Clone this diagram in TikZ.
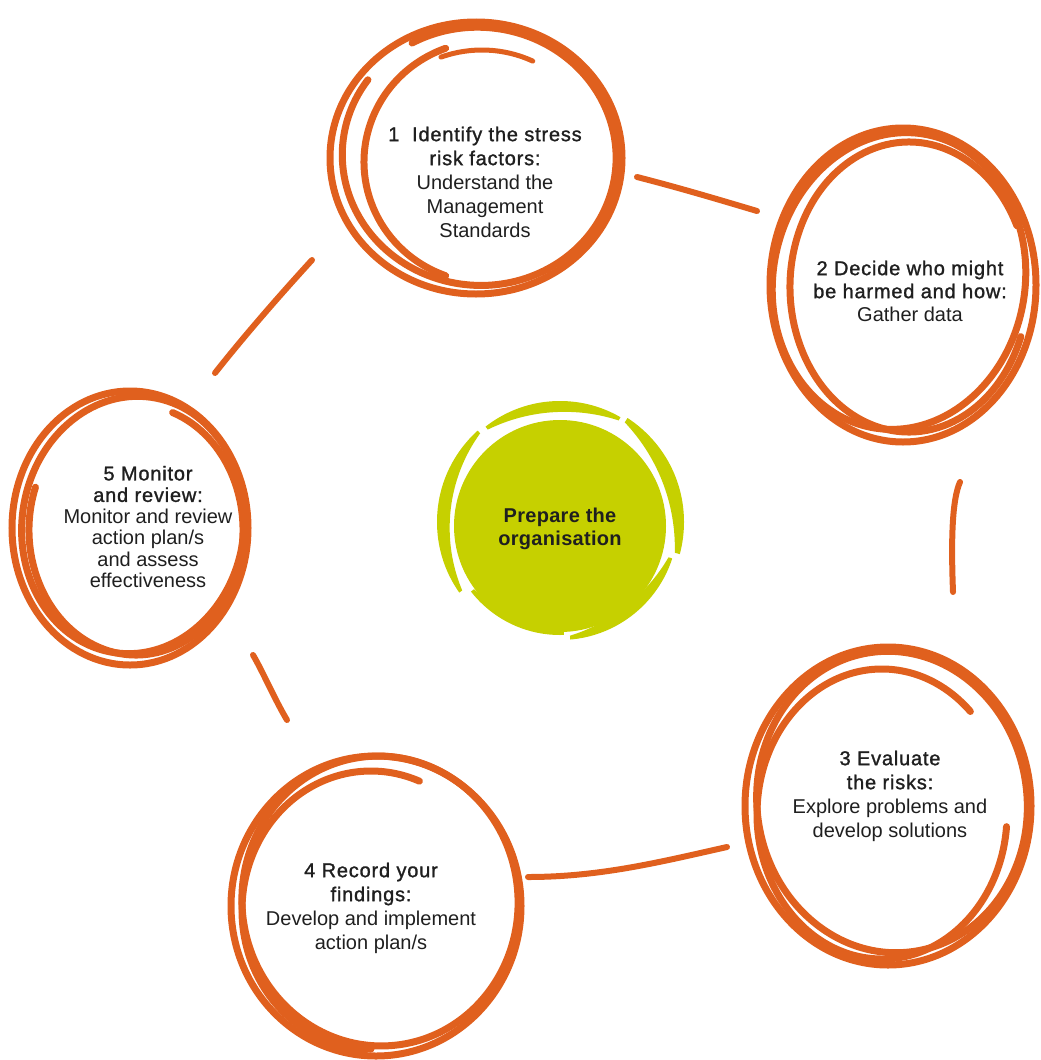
\documentclass[tikz,border=0pt]{standalone}
\usepackage{fontspec}
\setmainfont{Liberation Sans}
\newfontfamily\medfont[FakeBold=1.3,LetterSpace=4]{Liberation Sans}
\newfontfamily\ctrfont[LetterSpace=1.5]{Liberation Sans Bold}
\definecolor{orng}{RGB}{224,96,30}
\definecolor{lime}{RGB}{198,208,0}
\newcommand\blobpiece[4]{%
  \pgfmathsetmacro\hm{(#2-#1)/2}%
  \pgfmathsetmacro\tm{(#1+#2)/2+180}%
  \pgfmathsetmacro\mm{#4/(1-cos(\hm))}%
  \pgfmathsetmacro\rr{#3+\mm*cos(\hm)}%
  \begin{scope}
    \clip (0,0) -- (#1:260) arc[start angle=#1,end angle=#2,radius=260] -- cycle;
    \fill[lime,even odd rule] (0,0) circle[radius=#3] (\tm:\mm) circle[radius=\rr];
  \end{scope}}
\begin{document}
\begin{tikzpicture}[x=1pt,y=-1pt,
  ink/.style={draw=orng,line width=7pt,line cap=round},
  link/.style={draw=orng,line width=6pt,line cap=round},
  lbl/.style={align=center,font=\fontsize{20}{24}\selectfont,inner sep=0pt,text=black!88}]
\useasboundingbox (0,0) rectangle (1041,1060);

% ---------- centre blob ----------
\fill[lime] (560,526) circle[radius=106];
\begin{scope}[shift={(560,522)}]
  \blobpiece{145}{228}{123}{13}
  \blobpiece{232}{300}{121}{11}
  \blobpiece{303}{375}{124}{14}
  \blobpiece{378}{445}{118}{11}
  \blobpiece{88}{142}{113}{9}
\end{scope}
\node[lbl,font=\ctrfont\fontsize{20}{23}\selectfont] (t0) at (560,529) {Prepare the\\organisation};

% ---------- circle 1 ----------
\begin{scope}[shift={(476,158)}]
  \draw[ink] (0,0) ellipse[x radius=146,y radius=136];
  \draw[ink,rotate=-6,shift={(3,-2)}] (235:137 and 129) arc[start angle=235,end angle=570,x radius=137,y radius=129];
  \draw[ink,shift={(12,4)}] (110:124 and 121) arc[start angle=110,end angle=250,x radius=124,y radius=121];
  \draw[ink,line width=5pt,shift={(6,10)}] (250:120 and 118) arc[start angle=250,end angle=295,x radius=120,y radius=118];
\end{scope}
\node[lbl] (t1) at (485,182) {{\medfont 1\ \ Identify the stress}\\{\medfont risk factors:}\\Understand the\\Management\\Standards};

% ---------- circle 2 ----------
\begin{scope}[shift={(903,285)}]
  \draw[ink] (0,0) ellipse[x radius=133,y radius=157];
  \draw[ink,shift={(-4,-4)},rotate=-10] (0,0) ellipse[x radius=126,y radius=149];
  \draw[ink,shift={(6,2)}] (20:119 and 145) arc[start angle=20,end angle=335,x radius=119,y radius=145];
\end{scope}
\node[lbl,font=\fontsize{20}{23}\selectfont] (t2) at (910,291) {{\medfont 2 Decide who might}\\{\medfont be harmed and how:}\\Gather data};

% ---------- circle 3 ----------
\begin{scope}[shift={(888,806)}]
  \draw[ink] (0,0) ellipse[x radius=143,y radius=159];
  \draw[ink,shift={(4,-4)},rotate=8] (0,0) ellipse[x radius=135,y radius=151];
  \draw[ink,shift={(-6,8)}] (5:125 and 145) arc[start angle=5,end angle=315,x radius=125,y radius=145];
\end{scope}
\node[lbl] (t3) at (890,796) {{\medfont 3 Evaluate}\\{\medfont the risks:}\\Explore problems and\\develop solutions};

% ---------- circle 4 ----------
\begin{scope}[shift={(376,906)}]
  \draw[ink] (0,0) ellipse[x radius=145,y radius=150];
  \draw[ink,shift={(4,-5)},rotate=6] (0,0) ellipse[x radius=138,y radius=145];
  \draw[ink,shift={(-5,4)}] (90:129 and 139) arc[start angle=90,end angle=292,x radius=129,y radius=139];
\end{scope}
\node[lbl] (t4) at (371,908) {{\medfont 4 Record your}\\{\medfont findings:}\\Develop and implement\\action plan/s};

% ---------- circle 5 ----------
\begin{scope}[shift={(130,528)}]
  \draw[ink] (0,0) ellipse[x radius=118,y radius=137];
  \draw[ink,shift={(3,-3)},rotate=-8] (0,0) ellipse[x radius=111,y radius=129];
  \draw[ink,shift={(6,2)}] (290:107 and 125) arc[start angle=290,end angle=560,x radius=107,y radius=125];
\end{scope}
\node[lbl,font=\fontsize{20}{21.5}\selectfont] (t5) at (148,527) {{\medfont 5 Monitor}\\{\medfont and review:}\\Monitor and review\\action plan/s\\and assess\\effectiveness};

% ---------- connectors ----------
\coordinate (a1) at (637,177); \coordinate (a2) at (757,211);
\coordinate (b1) at (960,482); \coordinate (b2) at (953,592);
\coordinate (c1) at (727,847); \coordinate (c2) at (528,877);
\coordinate (d1) at (287,720); \coordinate (d2) at (253,655);
\coordinate (e1) at (215,373); \coordinate (e2) at (312,260);
\draw[link] (a1) .. controls (680,188) and (720,200) .. (a2);
\draw[link] (b1) .. controls (952,500) and (951,540) .. (b2);
\draw[link] (c1) .. controls (660,862) and (600,877) .. (c2);
\draw[link] (d1) .. controls (275,700) and (262,670) .. (d2);
\draw[link] (e1) .. controls (245,335) and (280,295) .. (e2);
\end{tikzpicture}
\end{document}
